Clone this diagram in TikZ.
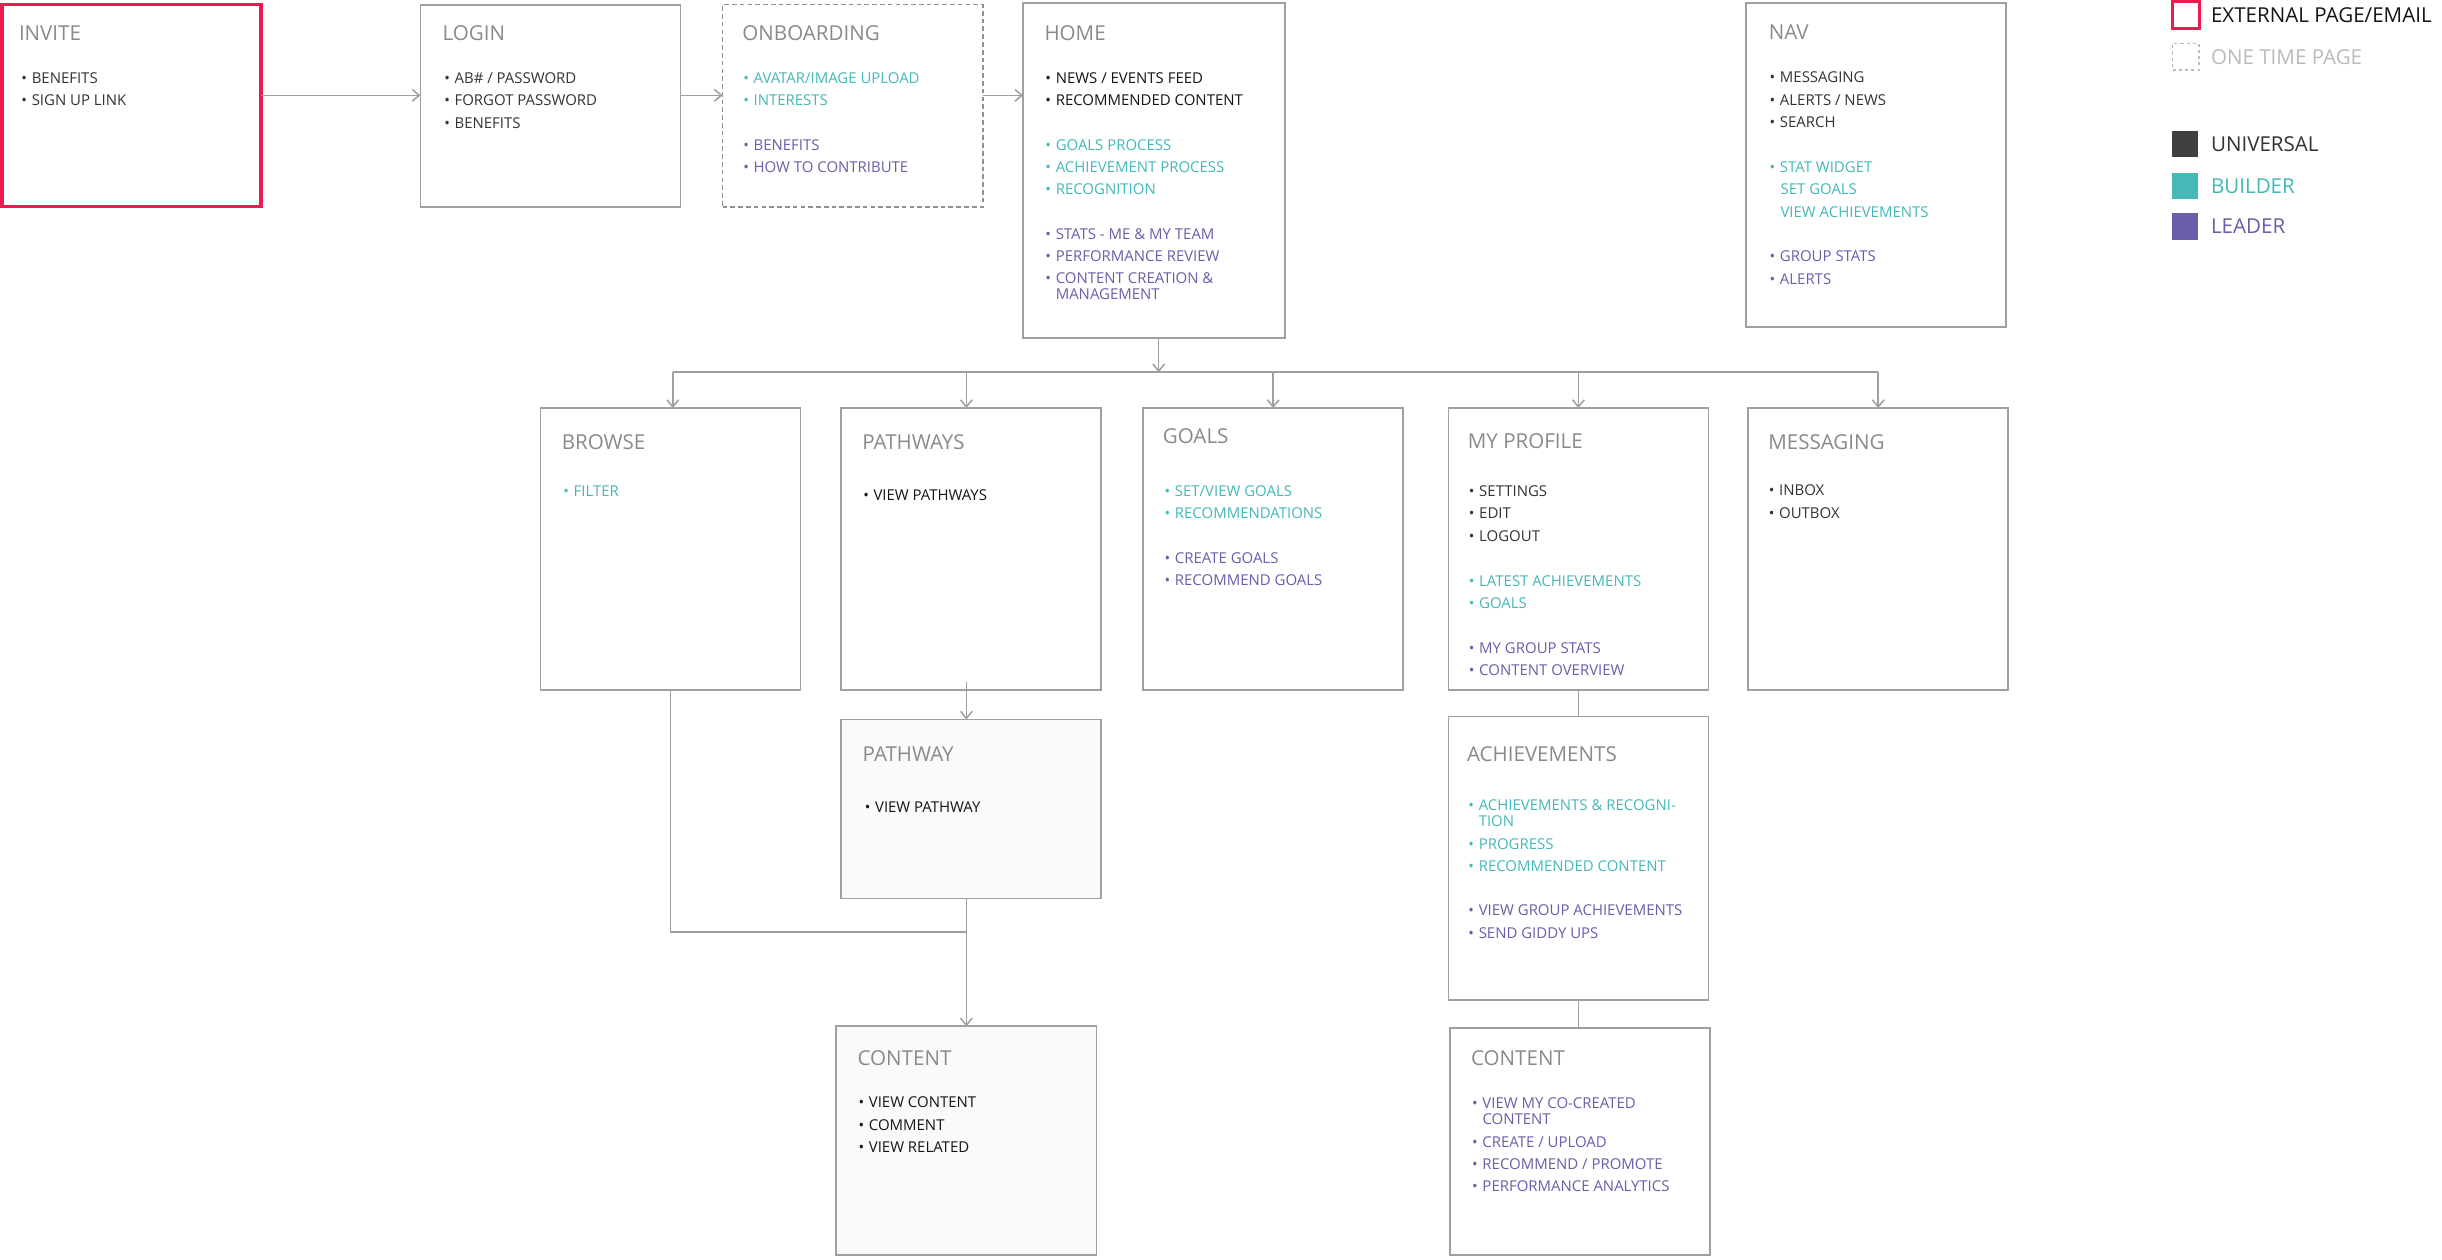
\documentclass[tikz,border=0pt]{standalone}
\usepackage{fontspec}
\setmainfont{Open Sans}
\usetikzlibrary{arrows.meta}
\definecolor{bordergray}{HTML}{A0A0A0}
\definecolor{titlegray}{HTML}{8A8A8A}
\definecolor{uni}{HTML}{333333}
\definecolor{blk}{HTML}{151515}
\definecolor{bld}{HTML}{45B8B8}
\definecolor{lead}{HTML}{6A5EAA}
\definecolor{ext}{HTML}{EE1A4F}
\definecolor{lightg}{HTML}{BBBBBB}
\definecolor{legdark}{HTML}{404040}
\definecolor{paleback}{HTML}{FAFAFA}
\tikzset{
 pagebox/.style={draw=bordergray, line width=1.1pt, fill=white, inner sep=0pt, outer sep=0pt, anchor=north west},
 ttl/.style={anchor=west, inner sep=0pt, text height=9.4pt, text depth=0pt, font=\fontsize{13.2}{15}\selectfont, text=titlegray},
 itm/.style={anchor=west, inner sep=0pt, text height=6.85pt, text depth=0pt, font=\fontsize{9.6}{11}\selectfont},
 legtxt/.style={anchor=west, inner sep=0pt, text height=9.4pt, text depth=0pt, font=\fontsize{13.2}{15}\selectfont},
 legsq/.style={inner sep=0pt, outer sep=0pt, anchor=north west, minimum width=17pt, minimum height=17pt},
 conn/.style={draw=bordergray, line width=1pt},
 arr/.style={conn, -{Straight Barb[length=4.5pt,width=7.5pt,line width=1pt]}},
}
\newcommand\bu{\makebox[6.6pt][l]{•}}
\newcommand\pbox[6][]{\node[pagebox,minimum width=#5pt,minimum height=#6pt,#1] (#2) at (#3,#4) {};}
\newcommand\ptitle[4]{\node[ttl] (#1) at (#2,#3) {#4};}
\newcommand\pitem[5]{\node[itm,text=#4] (#1) at (#2,#3) {\bu #5};}
\newcommand\pcont[5]{\node[itm,text=#4] (#1) at (#2,#3) {#5};}
\begin{document}
\begin{tikzpicture}[x=1pt,y=-1pt]
\fill[white] (0,0) rectangle (1568,809);
\useasboundingbox (0,0) rectangle (1568,809);

% ---------- boxes ----------
\pbox[draw=ext,line width=2.3pt]{invite}{1.2}{3}{166.5}{129.5}
\pbox{login}{270}{3}{167}{130}
\pbox[dash pattern=on 3pt off 2pt,line width=1pt,draw=bordergray!90!black]{onb}{464}{3}{167}{130}
\pbox{home}{657}{2}{168}{215}
\pbox{nav}{1121}{2}{167}{208}
\pbox{browse}{347}{262}{167}{181}
\pbox{pathways}{540}{262}{167}{181}
\pbox{goals}{734}{262}{167}{181}
\pbox{profile}{930}{262}{167}{181}
\pbox{messaging}{1122.5}{262}{167}{181}
\pbox[fill=paleback]{pathway}{540}{462}{167}{115}
\pbox[fill=paleback]{contentL}{537}{659}{167}{147}
\pbox{achieve}{930}{460}{167}{182}
\pbox{contentR}{931}{660}{167}{146}

% ---------- connectors ----------
\coordinate (rowA) at (0,61.2);
\draw[arr] (invite.east |- rowA) -- (login.west |- rowA);
\draw[arr] (login.east |- rowA) -- (onb.west |- rowA);
\draw[arr] (onb.east |- rowA) -- (home.west |- rowA);

\coordinate (bus) at (0,239);
\draw[arr] ([xshift=3pt]home.south) -- ([xshift=3pt]home.south |- bus);
\draw[conn] ([xshift=1.5pt]browse.north |- bus) -- (messaging.north |- bus);
\draw[arr] ([xshift=1.5pt]browse.north |- bus) -- ([xshift=1.5pt]browse.north);
\draw[arr] (contentL.north |- bus) -- (pathways.north -| contentL.north);
\draw[arr] (goals.north |- bus) -- (goals.north);
\draw[arr] (profile.north |- bus) -- (profile.north);
\draw[arr] (messaging.north |- bus) -- (messaging.north);

\draw[arr] ([yshift=5.4pt]pathways.south -| contentL.north) -- (pathway.north -| contentL.north);
\coordinate (joinY) at (0,598.4);
\draw[conn] (browse.south) |- (contentL.north |- joinY);
\draw[arr] (pathway.south -| contentL.north) -- (contentL.north);
\draw[conn] (profile.south) -- (achieve.north);
\draw[conn] (achieve.south) -- (achieve.south |- contentR.north);

% ---------- INVITE ----------
\ptitle{inviteT}{12}{21.5}{INVITE}
\pitem{invite1}{13.6}{50.3}{uni}{BENEFITS}
\pitem{invite2}{13.6}{64.6}{uni}{SIGN UP LINK}

% ---------- LOGIN ----------
\ptitle{loginT}{284}{21.5}{LOGIN}
\pitem{login1}{285.1}{50.3}{uni}{AB\# / PASSWORD}
\pitem{login2}{285.1}{64.6}{uni}{FORGOT PASSWORD}
\pitem{login3}{285.1}{78.9}{uni}{BENEFITS}

% ---------- ONBOARDING ----------
\ptitle{onbT}{476.5}{21}{ONBOARDING}
\pitem{onb1}{477.1}{50.1}{bld}{AVATAR/IMAGE UPLOAD}
\pitem{onb2}{477.1}{64.4}{bld}{INTERESTS}
\pitem{onb3}{477.1}{93}{lead}{BENEFITS}
\pitem{onb4}{477.1}{107.3}{lead}{HOW TO CONTRIBUTE}

% ---------- HOME ----------
\ptitle{homeT}{670.5}{21}{HOME}
\pitem{home1}{671.1}{50.1}{blk}{NEWS / EVENTS FEED}
\pitem{home2}{671.1}{64.4}{blk}{RECOMMENDED CONTENT}
\pitem{home3}{671.1}{93}{bld}{GOALS PROCESS}
\pitem{home4}{671.1}{107.3}{bld}{ACHIEVEMENT PROCESS}
\pitem{home5}{671.1}{121.6}{bld}{RECOGNITION}
\pitem{home6}{671.1}{150.3}{lead}{STATS - ME \& MY TEAM}
\pitem{home7}{671.1}{164.6}{lead}{PERFORMANCE REVIEW}
\pitem{home8}{671.1}{178.9}{lead}{CONTENT CREATION \&}
\pcont{home8b}{677.7}{189}{lead}{MANAGEMENT}

% ---------- NAV ----------
\ptitle{navT}{1135.5}{20.5}{NAV}
\pitem{nav1}{1136.1}{49.6}{uni}{MESSAGING}
\pitem{nav2}{1136.1}{64.1}{uni}{ALERTS / NEWS}
\pitem{nav3}{1136.1}{78.4}{uni}{SEARCH}
\pitem{nav4}{1136.1}{107.1}{bld}{STAT WIDGET}
\pcont{nav4b}{1143.1}{121.4}{bld}{SET GOALS}
\pcont{nav4c}{1143.1}{136}{bld}{VIEW ACHIEVEMENTS}
\pitem{nav5}{1136.1}{164.7}{lead}{GROUP STATS}
\pitem{nav6}{1136.1}{179}{lead}{ALERTS}

% ---------- BROWSE ----------
\ptitle{browseT}{360.5}{284}{BROWSE}
\pitem{browse1}{361.6}{315.3}{bld}{FILTER}

% ---------- PATHWAYS ----------
\ptitle{pathwaysT}{553.5}{284}{PATHWAYS}
\pitem{pathways1}{554.1}{318}{blk}{VIEW PATHWAYS}

% ---------- GOALS ----------
\ptitle{goalsT}{746.5}{280}{GOALS}
\pitem{goals1}{747.6}{315.3}{bld}{SET/VIEW GOALS}
\pitem{goals2}{747.6}{329.5}{bld}{RECOMMENDATIONS}
\pitem{goals3}{747.6}{358.3}{lead}{CREATE GOALS}
\pitem{goals4}{747.6}{372.7}{lead}{RECOMMEND GOALS}

% ---------- MY PROFILE ----------
\ptitle{profileT}{942.3}{283.5}{MY PROFILE}
\pitem{profile1}{943}{315.1}{uni}{SETTINGS}
\pitem{profile2}{943}{329.7}{uni}{EDIT}
\pitem{profile3}{943}{344.2}{uni}{LOGOUT}
\pitem{profile4}{943}{372.9}{bld}{LATEST ACHIEVEMENTS}
\pitem{profile5}{943}{387.3}{bld}{GOALS}
\pitem{profile6}{943}{416}{lead}{MY GROUP STATS}
\pitem{profile7}{943}{430.3}{lead}{CONTENT OVERVIEW}

% ---------- MESSAGING ----------
\ptitle{messagingT}{1135.2}{284}{MESSAGING}
\pitem{messaging1}{1135.6}{315}{uni}{INBOX}
\pitem{messaging2}{1135.6}{329.7}{uni}{OUTBOX}

% ---------- PATHWAY ----------
\ptitle{pathwayT}{553.7}{484}{PATHWAY}
\pitem{pathway1}{555.1}{518.1}{blk}{VIEW PATHWAY}

% ---------- CONTENT (left) ----------
\ptitle{contentLT}{550.5}{679.2}{CONTENT}
\pitem{contentL1}{551.1}{708}{blk}{VIEW CONTENT}
\pitem{contentL2}{551.1}{722.4}{blk}{COMMENT}
\pitem{contentL3}{551.1}{736.8}{blk}{VIEW RELATED}

% ---------- ACHIEVEMENTS ----------
\ptitle{achieveT}{941.8}{484.4}{ACHIEVEMENTS}
\pitem{achieve1}{942.7}{517.3}{bld}{ACHIEVEMENTS \& RECOGNI-}
\pcont{achieve1b}{949.3}{527.4}{bld}{TION}
\pitem{achieve2}{942.7}{541.8}{bld}{PROGRESS}
\pitem{achieve3}{942.7}{556.1}{bld}{RECOMMENDED CONTENT}
\pitem{achieve4}{942.7}{584.7}{lead}{VIEW GROUP ACHIEVEMENTS}
\pitem{achieve5}{942.7}{599.1}{lead}{SEND GIDDY UPS}

% ---------- CONTENT (right) ----------
\ptitle{contentRT}{944.4}{679.7}{CONTENT}
\pitem{contentR1}{945.1}{708.6}{lead}{VIEW MY CO-CREATED}
\pcont{contentR1b}{951.7}{718.6}{lead}{CONTENT}
\pitem{contentR2}{945.1}{733.1}{lead}{CREATE / UPLOAD}
\pitem{contentR3}{945.1}{747.4}{lead}{RECOMMEND / PROMOTE}
\pitem{contentR4}{945.1}{761.9}{lead}{PERFORMANCE ANALYTICS}

% ---------- legend ----------
\node[legsq,draw=ext,line width=2pt] (legExt) at (1395,1.2) {};
\node[legsq,draw=lightg,line width=1pt,dash pattern=on 2pt off 2pt] (legOne) at (1395,28) {};
\node[legsq,fill=legdark] (legUni) at (1394.5,84) {};
\node[legsq,fill=bld] (legBld) at (1394.5,111) {};
\node[legsq,fill=lead] (legLdr) at (1394.5,137) {};
\node[legtxt,text=blk] (legExtT) at (1419.5,9.8) {EXTERNAL PAGE/EMAIL};
\node[legtxt,text=lightg] (legOneT) at (1419.5,36.8) {ONE TIME PAGE};
\node[legtxt,text=uni] (legUniT) at (1419.5,92.7) {UNIVERSAL};
\node[legtxt,text=bld] (legBldT) at (1419.5,119.8) {BUILDER};
\node[legtxt,text=lead] (legLdrT) at (1419.5,145.5) {LEADER};
\end{tikzpicture}
\end{document}
